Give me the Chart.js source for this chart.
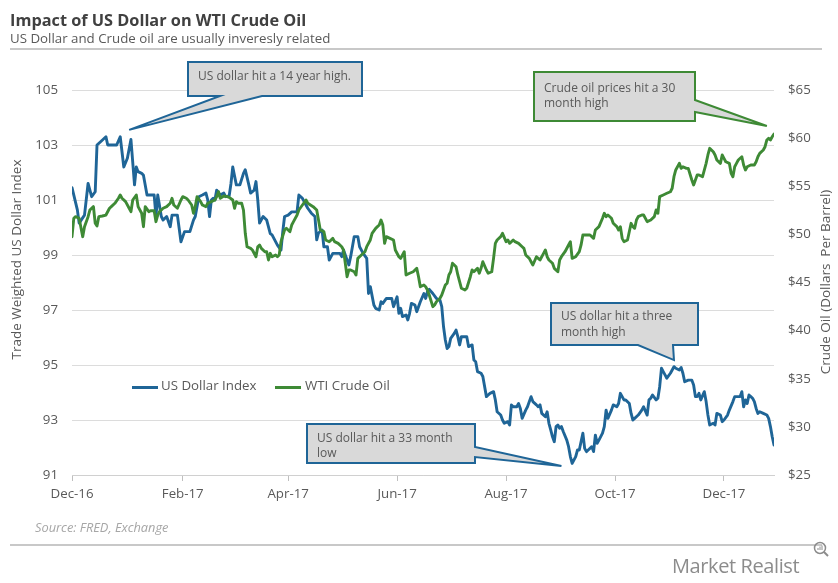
<!DOCTYPE html>
<html>
<head>
<meta charset="utf-8">
<script src="https://cdn.jsdelivr.net/npm/chart.js@4.4.0/dist/chart.umd.min.js"></script>
<style>
html,body{margin:0;padding:0;background:#fff;}
#wrap{position:relative;width:838px;height:583px;overflow:hidden;font-family:'Open Sans',sans-serif;}
#c{position:absolute;left:0;top:0;}
.abs{position:absolute;white-space:nowrap;}
.title{left:10px;top:12.2px;font-size:16.3px;line-height:16.3px;font-weight:700;color:#404040;}
.sub{left:10px;top:31.5px;font-size:13.3px;line-height:13.3px;color:#595959;}
.rule{left:10px;width:812px;height:2px;background:#c8c8c8;}
.source{left:35px;top:521px;font-size:12.8px;line-height:12.8px;font-style:italic;color:#a6a6a6;}
.logo{left:672px;top:555.5px;font-size:20px;line-height:20px;letter-spacing:-0.4px;color:#8c8c8c;}
.leg-line{height:3px;width:26px;}
.leg-text{font-size:13.3px;line-height:13.3px;color:#595959;top:379.2px;}
</style>
</head>
<body>
<div id="wrap">
  <canvas id="c" width="838" height="583"></canvas>
  <div class="abs title">Impact of US Dollar on WTI Crude Oil</div>
  <div class="abs sub">US Dollar and Crude oil are usually inveresly related</div>
  <div class="abs rule" style="top:48px"></div>
  <div class="abs rule" style="top:544px"></div>
  <div class="abs source">Source: FRED, Exchange</div>
  <div class="abs logo">Market Realist</div>
  <svg class="abs" style="left:812px;top:540px" width="20" height="20" viewBox="0 0 20 20">
    <circle cx="8" cy="8" r="5.5" fill="none" stroke="#8c8c8c" stroke-width="1.5"/>
    <line x1="12" y1="12" x2="16" y2="16" stroke="#8c8c8c" stroke-width="2"/>
    <line x1="6" y1="10" x2="6" y2="8" stroke="#8c8c8c" stroke-width="1"/>
    <line x1="8" y1="10" x2="8" y2="6.5" stroke="#8c8c8c" stroke-width="1"/>
    <line x1="10" y1="10" x2="10" y2="5.5" stroke="#8c8c8c" stroke-width="1"/>
  </svg>
  <div id="legend"></div>
</div>
<script>
// ---------- data ----------
const startDate = '2016-12-01';
const endDate = '2017-12-29';

const tickDates  = ['2016-12-01','2017-02-01','2017-04-01','2017-06-01','2017-08-01','2017-10-01','2017-12-01'];
const tickLabels = ['Dec-16','Feb-17','Apr-17','Jun-17','Aug-17','Oct-17','Dec-17'];

const usdDates = [
'2016-12-01','2016-12-04','2016-12-05','2016-12-08','2016-12-10','2016-12-12','2016-12-14','2016-12-15','2016-12-17','2016-12-20','2016-12-21','2016-12-24','2016-12-26','2016-12-28','2016-12-30',
'2017-01-01','2017-01-03','2017-01-05','2017-01-06','2017-01-07','2017-01-09','2017-01-10','2017-01-12','2017-01-16','2017-01-17','2017-01-18','2017-01-20','2017-01-21','2017-01-23','2017-01-25','2017-01-26','2017-01-29','2017-01-31',
'2017-02-02','2017-02-05','2017-02-07','2017-02-08','2017-02-10','2017-02-12','2017-02-14','2017-02-15','2017-02-16','2017-02-17','2017-02-18','2017-02-19','2017-02-20','2017-02-22','2017-02-24','2017-02-25','2017-02-27','2017-02-28',
'2017-03-01','2017-03-03','2017-03-05','2017-03-07','2017-03-08','2017-03-10','2017-03-11','2017-03-13','2017-03-14','2017-03-15','2017-03-16','2017-03-18','2017-03-20','2017-03-22','2017-03-23','2017-03-26','2017-03-28','2017-03-29','2017-03-30',
'2017-04-01','2017-04-03','2017-04-06','2017-04-07','2017-04-09','2017-04-11','2017-04-12','2017-04-14','2017-04-16','2017-04-17','2017-04-18','2017-04-20','2017-04-21','2017-04-23','2017-04-24','2017-04-26','2017-04-28','2017-04-30',
'2017-05-01','2017-05-02','2017-05-04','2017-05-05','2017-05-06','2017-05-08','2017-05-10','2017-05-11','2017-05-13','2017-05-15','2017-05-16','2017-05-17','2017-05-19','2017-05-20','2017-05-22','2017-05-23','2017-05-24','2017-05-26','2017-05-28','2017-05-29','2017-05-30',
'2017-06-01','2017-06-02','2017-06-03','2017-06-04','2017-06-06','2017-06-07','2017-06-08','2017-06-09','2017-06-11','2017-06-12','2017-06-14','2017-06-16','2017-06-17','2017-06-18','2017-06-19','2017-06-21','2017-06-23','2017-06-25','2017-06-26','2017-06-27','2017-06-28','2017-06-29','2017-06-30',
'2017-07-01','2017-07-03','2017-07-04','2017-07-05','2017-07-06','2017-07-07','2017-07-09','2017-07-10','2017-07-11','2017-07-13','2017-07-14','2017-07-15','2017-07-16','2017-07-18','2017-07-19','2017-07-21','2017-07-22','2017-07-23','2017-07-25','2017-07-26','2017-07-27','2017-07-29','2017-07-30','2017-07-31',
'2017-08-02','2017-08-03','2017-08-04','2017-08-05','2017-08-07','2017-08-08','2017-08-09','2017-08-10','2017-08-12','2017-08-13','2017-08-15','2017-08-16','2017-08-18','2017-08-19','2017-08-20','2017-08-21','2017-08-23','2017-08-24','2017-08-25','2017-08-26','2017-08-27','2017-08-28','2017-08-29','2017-08-30','2017-08-31',
'2017-09-01','2017-09-02','2017-09-04','2017-09-05','2017-09-06','2017-09-07','2017-09-09','2017-09-10','2017-09-11','2017-09-13','2017-09-14','2017-09-15','2017-09-16','2017-09-18','2017-09-19','2017-09-20','2017-09-21','2017-09-22','2017-09-24','2017-09-25','2017-09-26','2017-09-27','2017-09-29','2017-09-30',
'2017-10-02','2017-10-03','2017-10-04','2017-10-06','2017-10-07','2017-10-09','2017-10-10','2017-10-11','2017-10-12','2017-10-14','2017-10-16','2017-10-17','2017-10-19','2017-10-20','2017-10-21','2017-10-22','2017-10-24','2017-10-25','2017-10-26','2017-10-27','2017-10-28','2017-10-29','2017-10-30',
'2017-11-01','2017-11-02','2017-11-03','2017-11-04','2017-11-06','2017-11-07','2017-11-08','2017-11-09','2017-11-11','2017-11-13','2017-11-14','2017-11-15','2017-11-16','2017-11-17','2017-11-18','2017-11-20','2017-11-21','2017-11-22','2017-11-23','2017-11-25','2017-11-26','2017-11-27','2017-11-29','2017-11-30',
'2017-12-01','2017-12-03','2017-12-04','2017-12-06','2017-12-07','2017-12-09','2017-12-10','2017-12-11','2017-12-12','2017-12-13','2017-12-14','2017-12-15','2017-12-16','2017-12-17','2017-12-18','2017-12-19','2017-12-20','2017-12-21','2017-12-23','2017-12-25','2017-12-26','2017-12-27','2017-12-28','2017-12-29'
];
const usdIndex = [
101.45,100.64,100.16,100.45,101.6,101.12,101.3,103.0,103.12,103.3,103.0,103.0,103.0,103.3,102.2,
102.52,103.2,101.55,102.2,102.03,101.97,101.9,101.18,101.18,100.4,101.18,100.4,100.27,100.4,100.03,100.45,100.45,99.48,
99.85,99.85,100.27,100.4,101.12,101.18,101.25,101.0,100.4,101.0,101.06,101.0,101.36,101.18,101.25,101.12,101.15,101.6,
102.2,101.55,101.55,101.97,102.1,101.55,101.25,101.36,101.67,101.0,100.16,100.4,100.27,99.78,99.73,99.36,99.18,99.85,100.4,
100.45,100.57,100.57,101.18,101.06,100.82,100.7,100.52,100.4,99.55,99.8,99.91,99.3,99.3,98.82,99.06,99.06,99.06,
98.94,99.18,98.82,98.64,98.94,99.67,99.67,99.3,99.06,98.88,97.6,97.85,97.18,97.06,97.0,97.3,97.24,97.42,97.42,97.42,97.12,
97.48,96.88,97.06,96.76,96.82,96.64,96.88,97.24,97.18,96.94,97.3,97.6,97.42,97.67,97.75,97.6,97.42,97.36,97.12,96.39,95.91,95.6,95.67,
95.97,96.15,96.27,96.03,95.73,96.03,96.03,96.03,95.67,95.73,95.18,95.12,94.76,94.7,94.58,93.85,93.91,93.97,94.03,93.73,93.3,93.18,93.0,92.88,
92.94,92.82,93.55,93.48,93.48,93.6,93.42,93.06,93.36,93.48,93.85,93.67,93.55,93.48,93.55,93.24,93.12,93.3,92.88,92.64,92.39,92.21,92.76,92.82,92.7,
92.76,92.58,92.27,92.03,91.67,91.42,91.67,91.91,91.91,92.52,91.97,91.85,91.91,92.03,91.85,92.45,92.15,92.27,92.52,92.76,93.36,93.06,93.36,93.55,
93.48,93.6,93.97,93.73,93.73,93.6,93.24,93.0,93.06,93.18,93.36,93.48,93.18,93.73,93.79,93.91,93.73,93.79,94.21,94.88,94.76,94.64,94.52,
94.7,94.82,94.94,94.88,94.82,94.91,94.7,94.39,94.45,94.45,94.27,93.85,93.85,93.97,93.73,94.03,93.67,93.18,92.82,92.88,92.82,93.24,93.18,92.94,
93.0,93.18,93.36,93.67,93.85,93.85,93.85,94.03,93.48,93.73,93.6,93.91,93.85,93.79,93.67,93.42,93.24,93.3,93.24,93.18,93.06,92.76,92.39,92.09
];

const oilDates = [
'2016-12-01','2016-12-02','2016-12-03','2016-12-05','2016-12-07','2016-12-08','2016-12-10','2016-12-11','2016-12-13','2016-12-14','2016-12-15','2016-12-16','2016-12-18','2016-12-20','2016-12-22','2016-12-23','2016-12-25','2016-12-27','2016-12-28','2016-12-29','2016-12-31',
'2017-01-02','2017-01-03','2017-01-04','2017-01-06','2017-01-07','2017-01-09','2017-01-10','2017-01-11','2017-01-13','2017-01-14','2017-01-16','2017-01-17','2017-01-18','2017-01-19','2017-01-21','2017-01-23','2017-01-25','2017-01-26','2017-01-27','2017-01-29','2017-01-31',
'2017-02-01','2017-02-03','2017-02-04','2017-02-06','2017-02-07','2017-02-08','2017-02-09','2017-02-11','2017-02-12','2017-02-14','2017-02-15','2017-02-17','2017-02-19','2017-02-20','2017-02-21','2017-02-22','2017-02-24','2017-02-26','2017-02-27',
'2017-03-01','2017-03-02','2017-03-03','2017-03-04','2017-03-06','2017-03-07','2017-03-08','2017-03-09','2017-03-11','2017-03-12','2017-03-14','2017-03-15','2017-03-16','2017-03-17','2017-03-19','2017-03-20','2017-03-21','2017-03-22','2017-03-23','2017-03-25','2017-03-26','2017-03-27','2017-03-28','2017-03-30','2017-03-31',
'2017-04-02','2017-04-03','2017-04-04','2017-04-06','2017-04-07','2017-04-09','2017-04-11','2017-04-12','2017-04-15','2017-04-17','2017-04-19','2017-04-21','2017-04-22','2017-04-24','2017-04-26','2017-04-27','2017-04-29',
'2017-05-01','2017-05-02','2017-05-03','2017-05-04','2017-05-05','2017-05-06','2017-05-08','2017-05-09','2017-05-10','2017-05-12','2017-05-14','2017-05-15','2017-05-17','2017-05-18','2017-05-20','2017-05-21','2017-05-22','2017-05-23','2017-05-24','2017-05-25','2017-05-26','2017-05-28','2017-05-30','2017-05-31',
'2017-06-02','2017-06-03','2017-06-05','2017-06-06','2017-06-08','2017-06-10','2017-06-12','2017-06-13','2017-06-14','2017-06-16','2017-06-17','2017-06-18','2017-06-19','2017-06-21','2017-06-22','2017-06-23','2017-06-25','2017-06-26','2017-06-28','2017-06-29','2017-06-30',
'2017-07-01','2017-07-02','2017-07-04','2017-07-05','2017-07-06','2017-07-07','2017-07-09','2017-07-10','2017-07-12','2017-07-13','2017-07-14','2017-07-16','2017-07-17','2017-07-18','2017-07-19','2017-07-21','2017-07-22','2017-07-24','2017-07-25','2017-07-26','2017-07-27','2017-07-29','2017-07-30',
'2017-08-01','2017-08-02','2017-08-03','2017-08-05','2017-08-06','2017-08-08','2017-08-10','2017-08-11','2017-08-12','2017-08-14','2017-08-15','2017-08-16','2017-08-18','2017-08-19','2017-08-20','2017-08-22','2017-08-23','2017-08-24','2017-08-25','2017-08-27','2017-08-28','2017-08-30','2017-08-31',
'2017-09-01','2017-09-03','2017-09-05','2017-09-06','2017-09-07','2017-09-09','2017-09-11','2017-09-12','2017-09-13','2017-09-15','2017-09-17','2017-09-19','2017-09-20','2017-09-22','2017-09-24','2017-09-25','2017-09-26','2017-09-27','2017-09-29','2017-09-30',
'2017-10-02','2017-10-03','2017-10-04','2017-10-05','2017-10-06','2017-10-08','2017-10-10','2017-10-11','2017-10-12','2017-10-13','2017-10-14','2017-10-16','2017-10-17','2017-10-19','2017-10-21','2017-10-23','2017-10-24','2017-10-25','2017-10-26','2017-10-28','2017-10-30',
'2017-11-01','2017-11-02','2017-11-03','2017-11-04','2017-11-06','2017-11-07','2017-11-08','2017-11-10','2017-11-11','2017-11-13','2017-11-14','2017-11-16','2017-11-17','2017-11-19','2017-11-21','2017-11-22','2017-11-23','2017-11-25','2017-11-26','2017-11-27','2017-11-29','2017-11-30',
'2017-12-01','2017-12-02','2017-12-04','2017-12-05','2017-12-06','2017-12-07','2017-12-08','2017-12-09','2017-12-11','2017-12-12','2017-12-13','2017-12-14','2017-12-16','2017-12-18','2017-12-19','2017-12-20','2017-12-21','2017-12-23','2017-12-24','2017-12-25','2017-12-26','2017-12-27','2017-12-28','2017-12-29'
];
const wtiCrude = [
49.76,51.67,51.84,51.67,49.76,50.8,51.84,52.53,52.88,51.15,50.87,51.84,51.91,52.01,52.71,52.88,53.23,53.75,54.09,53.75,53.4,
52.71,52.36,53.57,54.09,52.88,52.19,50.8,52.88,52.36,52.46,52.46,51.32,52.01,52.36,52.71,52.88,53.23,53.75,53.05,52.71,53.57,
53.92,53.75,53.57,53.05,52.19,52.88,53.92,53.4,53.05,52.88,53.23,53.4,53.57,53.92,54.43,53.75,53.99,53.92,53.85,
53.57,52.71,53.4,53.23,53.23,52.53,50.11,48.72,48.55,48.38,47.68,48.72,48.9,48.55,48.2,48.2,47.34,48.03,47.68,47.86,47.68,47.86,49.24,50.45,50.63,
50.28,50.97,51.32,52.01,52.53,53.05,53.57,53.23,52.88,52.53,50.45,50.28,49.42,49.24,49.59,49.24,49.07,
48.72,48.38,47.0,45.6,46.3,46.3,46.12,45.78,47.51,47.86,48.2,48.72,49.42,50.11,50.63,50.8,50.97,51.49,50.97,49.07,49.76,49.59,49.42,48.38,
47.68,47.51,48.2,45.78,45.96,46.12,46.47,45.6,44.56,44.74,44.56,44.22,43.7,42.49,42.66,43.0,43.36,43.7,44.74,44.92,45.78,
46.12,47.0,46.64,45.78,45.08,44.4,44.22,44.4,45.6,46.3,46.12,46.47,45.96,46.47,47.16,46.3,45.96,46.12,47.51,49.07,49.42,49.76,50.11,
49.24,49.42,49.07,49.42,49.24,49.07,48.72,48.55,47.86,47.51,47.16,46.82,47.68,47.51,47.34,48.03,48.38,47.68,47.34,47.0,46.47,46.12,47.34,
47.68,48.2,48.9,49.24,47.51,47.68,48.2,48.9,49.94,49.94,49.94,49.59,50.45,50.8,51.67,52.19,51.84,52.01,51.67,51.15,
50.8,50.45,50.8,49.59,49.24,49.42,51.15,50.8,50.63,51.49,51.84,52.01,52.01,51.32,51.49,51.84,52.53,52.19,53.92,54.09,54.27,
54.43,54.79,55.99,56.69,57.38,56.86,57.03,56.86,56.86,55.65,55.13,56.17,56.17,55.99,57.38,58.25,58.94,58.59,58.25,57.73,57.38,58.25,
57.9,57.55,57.38,56.34,55.99,57.03,57.38,57.73,58.07,57.21,56.69,57.03,57.21,57.21,57.55,58.07,58.42,58.77,59.11,59.81,59.98,59.81,60.15,60.43
];

const usdTicks = {min:91, max:105, step:2};
const oilTicks = {min:25, max:65, step:5};

// ---------- styling ----------
const BLUE = '#1f6597';
const GREEN = '#3e8a35';
const TEXT = '#595959';
const FONT = "'Open Sans', sans-serif";

const DAY = 864e5;
const T0 = Date.parse(startDate);
const toX = d => (Date.parse(d) - T0) / DAY;

const callouts = [
  {lines:['US dollar hit a 14 year high.'], box:[188,62,174,34], side:'bottom', base:[220,262],
   tip:{date:'2017-01-02', value:103.55, axis:'yUsd'}, color:BLUE, tx:198, ty:[80]},
  {lines:['Crude oil prices hit a 30','month high'], box:[534,72,161,49], side:'right', base:[100,112],
   tip:{date:'2017-12-25', value:61.26, axis:'yOil'}, color:GREEN, tx:544, ty:[91.7,106.7]},
  {lines:['US dollar hit a three','month high'], box:[551,303,147,42], side:'bottom', base:[638,673],
   tip:{date:'2017-11-03', value:95.18, axis:'yUsd'}, color:BLUE, tx:561, ty:[320,336]},
  {lines:['US dollar hit a 33 month','low'], box:[307,424,168,39], side:'right', base:[447,457],
   tip:{date:'2017-09-01', value:91.33, axis:'yUsd'}, color:BLUE, tx:317, ty:[441.7,456.7]}
];

const overlayPlugin = {
  id:'overlay',
  afterDraw(chart){
    const ctx = chart.ctx;
    // axis titles
    ctx.save();
    ctx.fillStyle = TEXT;
    ctx.font = "13.5px " + FONT;
    ctx.textAlign = 'center';
    ctx.textBaseline = 'middle';
    ctx.translate(17.5, 259.5);
    ctx.rotate(-Math.PI/2);
    ctx.fillText('Trade Weighted US Dollar Index', 0, 0);
    ctx.restore();
    ctx.save();
    ctx.fillStyle = TEXT;
    ctx.font = "13.5px " + FONT;
    ctx.textAlign = 'center';
    ctx.textBaseline = 'middle';
    ctx.translate(826, 282);
    ctx.rotate(-Math.PI/2);
    ctx.fillText('Crude Oil (Dollars  Per Barrel)', 0, 0);
    ctx.restore();

    // callouts
    callouts.forEach(c => {
      const [bx,by,bw,bh] = c.box;
      const tx = chart.scales.x.getPixelForValue(toX(c.tip.date));
      const ty = chart.scales[c.tip.axis].getPixelForValue(c.tip.value);
      ctx.save();
      ctx.beginPath();
      ctx.moveTo(bx, by);
      ctx.lineTo(bx+bw, by);
      if (c.side === 'right') {
        ctx.lineTo(bx+bw, c.base[0]);
        ctx.lineTo(tx, ty);
        ctx.lineTo(bx+bw, c.base[1]);
        ctx.lineTo(bx+bw, by+bh);
        ctx.lineTo(bx, by+bh);
      } else {
        ctx.lineTo(bx+bw, by+bh);
        ctx.lineTo(c.base[1], by+bh);
        ctx.lineTo(tx, ty);
        ctx.lineTo(c.base[0], by+bh);
        ctx.lineTo(bx, by+bh);
      }
      ctx.closePath();
      ctx.fillStyle = '#d9d9d9';
      ctx.fill();
      ctx.lineWidth = 2;
      ctx.lineJoin = 'miter';
      ctx.strokeStyle = c.color;
      ctx.stroke();
      ctx.fillStyle = TEXT;
      ctx.font = "12px " + FONT;
      ctx.textAlign = 'left';
      ctx.textBaseline = 'alphabetic';
      c.lines.forEach((t,i) => ctx.fillText(t, c.tx, c.ty[i]));
      ctx.restore();
    });
  }
};

Chart.defaults.font.family = FONT;

const chart = new Chart(document.getElementById('c'), {
  type:'line',
  data:{
    datasets:[
      {label:'US Dollar Index', data: usdDates.map((d,i)=>({x:toX(d), y:usdIndex[i]})),
       yAxisID:'yUsd', borderColor:BLUE, backgroundColor:BLUE, borderWidth:2.9, pointRadius:0,
       tension:0, borderJoinStyle:'round', borderCapStyle:'round', order:1},
      {label:'WTI Crude Oil', data: oilDates.map((d,i)=>({x:toX(d), y:wtiCrude[i]})),
       yAxisID:'yOil', borderColor:GREEN, backgroundColor:GREEN, borderWidth:2.9, pointRadius:0,
       tension:0, borderJoinStyle:'round', borderCapStyle:'round', order:0}
    ]
  },
  options:{
    responsive:false, animation:false, devicePixelRatio:1,
    layout:{padding:{top:90, left:0, right:0, bottom:0}},
    plugins:{legend:{display:false}, tooltip:{enabled:false}},
    scales:{
      x:{
        type:'linear', min:toX(startDate), max:toX(endDate),
        afterBuildTicks: s => { s.ticks = tickDates.map(d => ({value: toX(d)})); },
        ticks:{
          autoSkip:false, maxRotation:0, padding:5, color:TEXT, font:{size:13.3},
          callback: v => { const i = tickDates.findIndex(d => toX(d) === v); return i >= 0 ? tickLabels[i] : ''; }
        },
        grid:{drawOnChartArea:false, drawTicks:true, tickLength:6, color:'#bfbfbf'},
        border:{display:true, color:'#d0d0d0'},
        afterFit: s => { s.height = 108; }
      },
      yUsd:{
        position:'left', min:usdTicks.min, max:usdTicks.max,
        ticks:{stepSize:usdTicks.step, padding:14, color:TEXT, font:{size:13.3}},
        grid:{color:'#dcdcdc', drawTicks:false},
        border:{display:false},
        afterFit: s => { s.width = 72; }
      },
      yOil:{
        position:'right', min:oilTicks.min, max:oilTicks.max,
        ticks:{stepSize:oilTicks.step, padding:14, color:TEXT, font:{size:13.3}, callback: v => '$' + v},
        grid:{display:false, drawTicks:false},
        border:{display:false},
        afterFit: s => { s.width = 64; }
      }
    }
  },
  plugins:[overlayPlugin]
});

// HTML legend built from the datasets
const legendPos = [{line:132, text:161}, {line:275, text:305}];
const leg = document.getElementById('legend');
chart.data.datasets.forEach((ds, i) => {
  const l = document.createElement('div');
  l.className = 'abs leg-line';
  l.style.left = legendPos[i].line + 'px';
  l.style.top = '385.5px';
  l.style.background = ds.borderColor;
  leg.appendChild(l);
  const t = document.createElement('div');
  t.className = 'abs leg-text';
  t.style.left = legendPos[i].text + 'px';
  t.textContent = ds.label;
  leg.appendChild(t);
});
</script>
</body>
</html>
